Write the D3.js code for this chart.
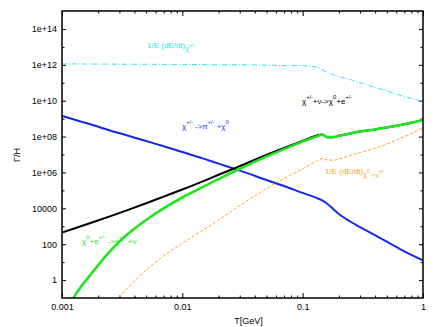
<!DOCTYPE html>
<html>
<head>
<meta charset="utf-8">
<script src="https://cdn.jsdelivr.net/npm/d3@7.9.0/dist/d3.min.js"></script>
<style>
  body { margin: 0; background: #fff; }
  svg { display: block; font-family: "Liberation Sans", Arial, sans-serif; }
  .axis path { display: none; }
  .axis line { stroke: #000; stroke-width: 1; }
  .axis text { font-size: 9px; fill: #000; }
</style>
</head>
<body>
<svg id="chart" width="436" height="327"></svg>
<script>
// temperature grid (GeV)
const temps = [0.001, 0.0013, 0.0018, 0.0025, 0.0035, 0.005, 0.007, 0.01, 0.015, 0.02, 0.03, 0.05, 0.07,
  0.1, 0.13, 0.145, 0.16, 0.18, 0.2, 0.25, 0.3, 0.4, 0.5, 0.7, 1.0];

// Gamma/H for each process
const energyLossCharged = [1.12e12, 1.12e12, 1.10e12, 1.10e12, 1.07e12, 1.07e12, 1.05e12, 1.05e12, 1.02e12, 1.0e12, 1.0e12, 9.5e11, 9.3e11,
  8.9e11, 7.6e11, 5.2e11, 3.8e11, 2.8e11, 2.2e11, 1.5e11, 1.0e11, 5.5e10, 3.5e10, 1.7e10, 9.1e9];
const decayToPion = [1.41e9, 8.3e8, 4.4e8, 2.2e8, 1.15e8, 5.6e7, 2.9e7, 1.38e7, 5.9e6, 3.1e6, 1.26e6, 3.8e5, 1.74e5,
  7.2e4, 3.8e4, 2.75e4, 1.78e4, 8.9e3, 4.8e3, 1.78e3, 890, 316, 141, 40, 12.6];
const neutrinoScatter = [447, 794, 1660, 3550, 7.9e3, 1.9e4, 4.5e4, 1.12e5, 3.3e5, 7.4e5, 2.24e6, 9.5e6, 2.3e7,
  5.75e7, 1.1e8, 1.32e8, 9.3e7, 9.3e7, 1.1e8, 1.5e8, 1.9e8, 2.5e8, 3.2e8, 4.8e8, 8.3e8];
const electronScatter = [0.006, 0.16, 2.8, 40, 355, 2240, 1e4, 4e4, 1.6e5, 4.2e5, 1.6e6, 7.6e6, 2e7,
  5.2e7, 1e8, 1.26e8, 9.3e7, 9.3e7, 1.1e8, 1.5e8, 1.9e8, 2.5e8, 3.2e8, 4.8e8, 8.3e8];
const energyLossNeutral = [null, null, 1e-3, 0.03, 0.35, 3.5, 22, 112, 630, 2240, 1.4e4, 1.26e5, 4.5e5,
  1.6e6, 4.2e6, 6e6, 5e6, 4.8e6, 5.6e6, 8.9e6, 1.26e7, 2.24e7, 3.8e7, 1e8, 3e8];

const xMajor = [0.001, 0.01, 0.1, 1];
const xMajorLabels = ["0.001", "0.01", "0.1", "1"];
const yMajor = [1, 100, 10000, 1e6, 1e8, 1e10, 1e12, 1e14];
const yMajorLabels = ["1", "100", "10000", "1e+06", "1e+08", "1e+10", "1e+12", "1e+14"];
const yMinor = [10, 1000, 1e5, 1e7, 1e9, 1e11, 1e13];

const svg = d3.select('#chart');
const margin = { left: 62, right: 13, top: 11, bottom: 29 };
const W = 436, H = 327;
const x = d3.scaleLog().domain([0.001, 1]).range([margin.left, W - margin.right]);
const y = d3.scaleLog().domain([0.1, 1e15]).range([H - margin.bottom, margin.top]);

let xMinor = [];
[0.001, 0.01, 0.1].forEach((d) => { for (let k = 2; k <= 9; k++) xMinor.push(d * k); });

svg.append('rect').attr('width', W).attr('height', H).attr('fill', '#fff');

svg.append('clipPath').attr('id', 'clip')
  .append('rect')
  .attr('x', margin.left).attr('y', margin.top)
  .attr('width', W - margin.left - margin.right)
  .attr('height', H - margin.top - margin.bottom);

// ticks (all pointing inward)
function addAxis(axis, tx, ty) {
  return svg.append('g').attr('class', 'axis').attr('transform', `translate(${tx},${ty})`).call(axis);
}
const yBottom = y.range()[0], yTop = y.range()[1], xLeft = x.range()[0], xRight = x.range()[1];

addAxis(d3.axisBottom(x).tickValues(xMajor).tickSize(-5).tickPadding(6).tickFormat((d, i) => xMajorLabels[i]), 0, yBottom);
addAxis(d3.axisBottom(x).tickValues(xMinor).tickSize(-2.5).tickFormat(''), 0, yBottom);
addAxis(d3.axisTop(x).tickValues(xMajor).tickSize(-5).tickFormat(''), 0, yTop);
addAxis(d3.axisTop(x).tickValues(xMinor).tickSize(-2.5).tickFormat(''), 0, yTop);
addAxis(d3.axisLeft(y).tickValues(yMajor).tickSize(-4).tickPadding(5).tickFormat((d, i) => yMajorLabels[i]), xLeft, 0);
addAxis(d3.axisLeft(y).tickValues(yMinor).tickSize(-2.5).tickFormat(''), xLeft, 0);
addAxis(d3.axisRight(y).tickValues(yMajor).tickSize(-4).tickFormat(''), xRight, 0);
addAxis(d3.axisRight(y).tickValues(yMinor).tickSize(-2.5).tickFormat(''), xRight, 0);

// curves
const line = d3.line()
  .defined((d) => d[1] != null)
  .x((d) => x(d[0]))
  .y((d) => y(d[1]))
  .curve(d3.curveMonotoneX);

const series = [
  { vals: energyLossCharged, color: '#30e4f0', width: 1, dash: '5,2,1,2' },
  { vals: energyLossNeutral, color: '#ffa520', width: 1, dash: '3,2' },
  { vals: decayToPion, color: '#1429e6', width: 2, dash: null },
  { vals: neutrinoScatter, color: '#000', width: 2, dash: null },
  { vals: electronScatter, color: '#1ee61e', width: 2.6, dash: null },
];
const plot = svg.append('g').attr('clip-path', 'url(#clip)');
series.forEach((s) => {
  plot.append('path')
    .attr('d', line(temps.map((t, i) => [t, s.vals[i]])))
    .attr('fill', 'none')
    .attr('stroke', s.color)
    .attr('stroke-width', s.width)
    .attr('stroke-dasharray', s.dash);
});

// frame
svg.append('rect')
  .attr('x', xLeft).attr('y', yTop)
  .attr('width', xRight - xLeft).attr('height', yBottom - yTop)
  .attr('fill', 'none').attr('stroke', '#000').attr('stroke-width', 1.5);

// axis titles
svg.append('text').attr('x', (xLeft + xRight) / 2 + 6).attr('y', 324)
  .attr('text-anchor', 'middle').style('font-size', '9px').text('T[GeV]');
svg.append('text').attr('transform', 'translate(20,155) rotate(-90)')
  .attr('text-anchor', 'middle').style('font-size', '9px').text('Γ/H');

// curve labels: [text, baseline offset, font size]
function richLabel(px, py, color, parts) {
  const t = svg.append('text').attr('x', px).attr('y', py).attr('fill', color).style('font-size', '8px');
  let cur = 0;
  parts.forEach(([txt, off = 0, size = 8]) => {
    t.append('tspan').attr('dy', off - cur).style('font-size', size + 'px').text(txt);
    cur = off;
  });
}
richLabel(147, 48, '#30e4f0', [['1/E (dE/dt)'], ['χ', 3, 7], ['+/-', -1, 5]]);
richLabel(302, 104, '#000', [['χ'], ['+/-', -5, 5.5], ['+ν->χ'], ['0', -5, 6], ['+e'], ['+/-', -5, 5.5]]);
richLabel(182, 129, '#3a3aee', [['χ'], ['+/-', -5, 5.5], [' ->π'], ['+/-', -5, 5.5], [' +χ'], ['0', -5, 6]]);
richLabel(82, 244, '#1ee61e', [['χ'], ['0', -5, 6], ['+e'], ['+/-', -5, 5.5], [' ->χ'], ['+/-', -5, 5.5], [' +ν']]);
richLabel(325, 174, '#ffa520', [['1/E (dE/dt)'], ['χ', 3, 7], ['0', -1, 5], ['->χ', 3, 6], ['+/-', -1, 5]]);
</script>
</body>
</html>
